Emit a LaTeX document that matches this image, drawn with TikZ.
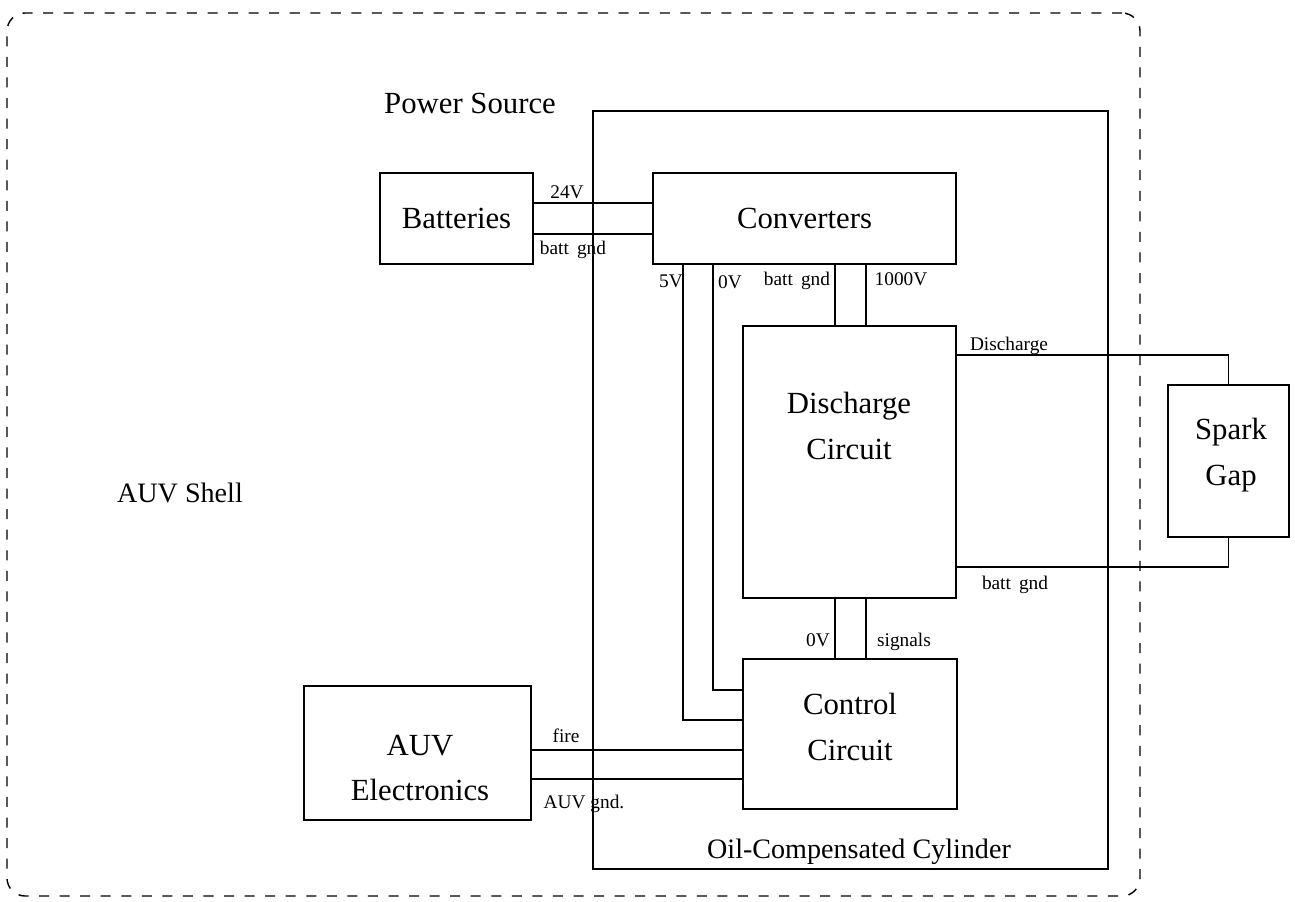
\documentclass[tikz,border=0pt]{standalone}
\usepackage{fontspec}
\setmainfont{Liberation Serif}
\begin{document}
\begin{tikzpicture}[x=0.02cm,y=-0.02cm,line width=0.8pt,
  blk/.style 2 args={draw,inner sep=0pt,minimum width=#1*0.02cm,minimum height=#2*0.02cm},
  big/.style={inner sep=0pt,font=\fontsize{17.5}{26}\selectfont,align=center},
  mid/.style={inner sep=0pt,font=\fontsize{16}{20}\selectfont},
  small/.style={inner sep=0pt,font=\fontsize{11}{13}\selectfont,text height=0.7em,text depth=0.2em},
  wire/.style={line width=0.8pt}]
\useasboundingbox (0,0) rectangle (1295,902);
% outer shell
\node[blk={1133}{883},dashed,dash pattern=on 5.7pt off 6pt,rounded corners=0.36cm] (shell) at (573.5,454.5) {};
\node[mid] (shellT) at (180,493) {AUV Shell};
% cylinder
\node[blk={515}{758}] (cyl) at (850.5,490) {};
\node[mid] (cylT) at (859,852) {Oil-Compensated Cylinder};
\node[big] (psT) at (470,103) {Power Source};
% blocks
\node[blk={153}{91},big] (bat) at (456.5,218.5) {Batteries};
\node[blk={303}{91},big] (conv) at (804.5,218.5) {Converters};
\node[blk={213}{272}] (dis) at (849.5,462) {};
\node[big] (disT) at (849,426) {Discharge\\Circuit};
\node[blk={214}{150}] (ctrl) at (850,734) {};
\node[big] (ctrlT) at (850,727) {Control\\Circuit};
\node[blk={227}{134}] (auv) at (417.5,753) {};
\node[big] (auvT) at (420,768) {AUV\\Electronics};
\node[blk={121}{152}] (spark) at (1228.5,461) {};
\node[big] (sparkT) at (1231,455) {Spark\\Gap};
% connectors
\draw[wire] (bat.east |- 0,203) -- (conv.west |- 0,203);
\draw[wire] (bat.east |- 0,234) -- (conv.west |- 0,234);
\draw[wire] (conv.south -| 683,0) |- (ctrl.west |- 0,720);
\draw[wire] (conv.south -| 713,0) |- (ctrl.west |- 0,690);
\draw[wire] (conv.south -| 835,0) -- (dis.north -| 835,0);
\draw[wire] (conv.south -| 866,0) -- (dis.north -| 866,0);
\draw[wire] (dis.south -| 835,0) -- (ctrl.north -| 835,0);
\draw[wire] (dis.south -| 866,0) -- (ctrl.north -| 866,0);
\draw[wire] (dis.east |- 0,355) -| (spark.north);
\draw[wire] (dis.east |- 0,567) -| (spark.south);
\draw[wire] (auv.east |- 0,750) -- (ctrl.west |- 0,750);
\draw[wire] (auv.east |- 0,779) -- (ctrl.west |- 0,779);
% wire labels
\node[small] (l24) at (567,194) {24V};
\node[small] (lbg1) at (573,250) {batt\ \,gnd};
\node[small] (l5v) at (671,283) {5V};
\node[small] (l0v1) at (730,284) {0V};
\node[small] (lbg2) at (797,281) {batt\ \,gnd};
\node[small] (l1000) at (901,281) {1000V};
\node[small] (ldis) at (1009,346) {Discharge};
\node[small] (lbg3) at (1015,585) {batt\ \,gnd};
\node[small] (l0v2) at (818,642) {0V};
\node[small] (lsig) at (904,642) {signals};
\node[small] (lfire) at (566,738) {fire};
\node[small] (lgnd) at (584,804) {AUV gnd.};
\end{tikzpicture}
\end{document}
